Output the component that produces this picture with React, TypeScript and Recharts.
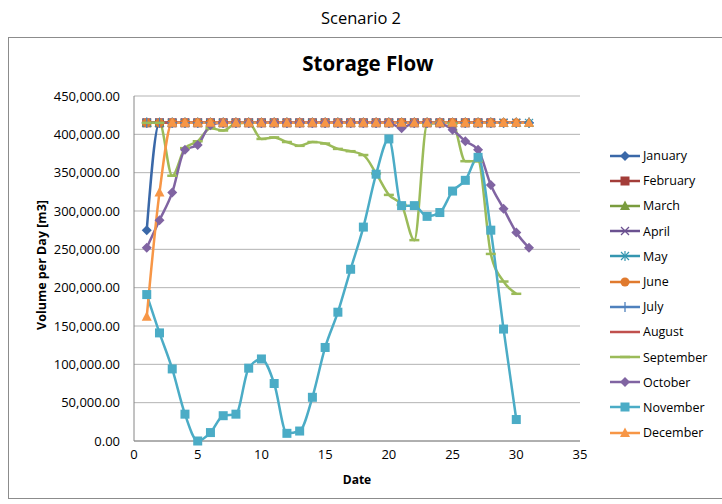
import React from 'react';
import { LineChart, Line, XAxis, YAxis, CartesianGrid } from 'recharts';

// daily storage volume per month, m3
const january = [275000, 415000, 415000, 415000, 415000, 415000, 415000, 415000, 415000, 415000, 415000, 415000, 415000, 415000, 415000, 415000, 415000, 415000, 415000, 415000, 415000, 415000, 415000, 415000, 415000, 415000, 415000, 415000, 415000, 415000, 415000];
const february = [415000, 415000, 415000, 415000, 415000, 415000, 415000, 415000, 415000, 415000, 415000, 415000, 415000, 415000, 415000, 415000, 415000, 415000, 415000, 415000, 415000, 415000, 415000, 415000, 415000, 415000, 415000, 415000];
const march = [415000, 415000, 415000, 415000, 415000, 415000, 415000, 415000, 415000, 415000, 415000, 415000, 415000, 415000, 415000, 415000, 415000, 415000, 415000, 415000, 415000, 415000, 415000, 415000, 415000, 415000, 415000, 415000, 415000, 415000, 415000];
const april = [415000, 415000, 415000, 415000, 415000, 415000, 415000, 415000, 415000, 415000, 415000, 415000, 415000, 415000, 415000, 415000, 415000, 415000, 415000, 415000, 415000, 415000, 415000, 415000, 415000, 415000, 415000, 415000, 415000, 415000];
const may = [415000, 415000, 415000, 415000, 415000, 415000, 415000, 415000, 415000, 415000, 415000, 415000, 415000, 415000, 415000, 415000, 415000, 415000, 415000, 415000, 415000, 415000, 415000, 415000, 415000, 415000, 415000, 415000, 415000, 415000, 415000];
const june = [415000, 415000, 415000, 415000, 415000, 415000, 415000, 415000, 415000, 415000, 415000, 415000, 415000, 415000, 415000, 415000, 415000, 415000, 415000, 415000, 415000, 415000, 415000, 415000, 415000, 415000, 415000, 415000, 415000, 415000];
const july = [415000, 415000, 415000, 415000, 415000, 415000, 415000, 415000, 415000, 415000, 415000, 415000, 415000, 415000, 415000, 415000, 415000, 415000, 415000, 415000, 415000, 415000, 415000, 415000, 415000, 415000, 415000, 415000, 415000, 415000, 415000];
const august = [415000, 415000, 415000, 415000, 415000, 415000, 415000, 415000, 415000, 415000, 415000, 415000, 415000, 415000, 415000, 415000, 415000, 415000, 415000, 415000, 415000, 415000, 415000, 415000, 415000, 415000, 415000, 415000, 415000, 415000, 415000];
const september = [415000, 415000, 346000, 382000, 391000, 408000, 405000, 414000, 415000, 394000, 396000, 390000, 385000, 390000, 388000, 381000, 378000, 373000, 349000, 321000, 308000, 262000, 413000, 415000, 414000, 365000, 365000, 244000, 208000, 192000];
const october = [252000, 288000, 324000, 380000, 386000, 412000, 415000, 415000, 415000, 415000, 415000, 415000, 415000, 415000, 415000, 415000, 415000, 415000, 415000, 415000, 408000, 415000, 415000, 414000, 406000, 391000, 380000, 334000, 303000, 272000, 252000];
const november = [191000, 141000, 94000, 35000, 0, 11000, 33000, 35000, 95000, 107000, 75000, 10000, 13000, 57000, 122000, 168000, 224000, 279000, 348000, 394000, 307000, 307000, 293000, 298000, 326000, 340000, 370000, 275000, 146000, 28000];
const december = [162000, 324000, 415000, 415000, 415000, 415000, 415000, 415000, 415000, 415000, 415000, 415000, 415000, 415000, 415000, 415000, 415000, 415000, 415000, 415000, 415000, 415000, 415000, 415000, 415000, 415000, 415000, 415000, 415000, 415000, 415000];

const xTicks = [0, 5, 10, 15, 20, 25, 30, 35];
const yTicks = [0, 50000, 100000, 150000, 200000, 250000, 300000, 350000, 400000, 450000];

type Shape = 'diamond' | 'square' | 'triangle' | 'x' | 'asterisk' | 'circle' | 'plus' | 'none' | 'dash';

const series: { key: string; name: string; values: number[]; color: string; shape: Shape }[] = [
  { key: 'jan', name: 'January', values: january, color: '#3A68A8', shape: 'diamond' },
  { key: 'feb', name: 'February', values: february, color: '#A33D39', shape: 'square' },
  { key: 'mar', name: 'March', values: march, color: '#7A9C3E', shape: 'triangle' },
  { key: 'apr', name: 'April', values: april, color: '#6B5190', shape: 'x' },
  { key: 'may', name: 'May', values: may, color: '#3596B0', shape: 'asterisk' },
  { key: 'jun', name: 'June', values: june, color: '#E07A2E', shape: 'circle' },
  { key: 'jul', name: 'July', values: july, color: '#4F81BD', shape: 'plus' },
  { key: 'aug', name: 'August', values: august, color: '#C0504D', shape: 'none' },
  { key: 'sep', name: 'September', values: september, color: '#9BBB59', shape: 'dash' },
  { key: 'oct', name: 'October', values: october, color: '#8064A2', shape: 'diamond' },
  { key: 'nov', name: 'November', values: november, color: '#4BACC6', shape: 'square' },
  { key: 'dec', name: 'December', values: december, color: '#F79646', shape: 'triangle' },
];

const rows = january.map((_, i) => {
  const row: Record<string, number | undefined> = { day: i + 1 };
  series.forEach(s => {
    row[s.key] = s.values[i];
  });
  return row;
});

const font = '"Open Sans", "Noto Sans", sans-serif';

function Marker({ shape, cx, cy, color }: { shape: Shape; cx: number; cy: number; color: string }) {
  switch (shape) {
    case 'diamond':
      return <polygon points={`${cx},${cy - 5} ${cx + 5},${cy} ${cx},${cy + 5} ${cx - 5},${cy}`} fill={color} />;
    case 'square':
      return <rect x={cx - 4.5} y={cy - 4.5} width={9} height={9} fill={color} />;
    case 'triangle':
      return <polygon points={`${cx},${cy - 5.5} ${cx + 5},${cy + 4} ${cx - 5},${cy + 4}`} fill={color} />;
    case 'x':
      return (
        <g stroke={color} strokeWidth={1.3}>
          <line x1={cx - 4} y1={cy - 4} x2={cx + 4} y2={cy + 4} />
          <line x1={cx - 4} y1={cy + 4} x2={cx + 4} y2={cy - 4} />
        </g>
      );
    case 'asterisk':
      return (
        <g stroke={color} strokeWidth={1.2}>
          <line x1={cx - 4} y1={cy - 4} x2={cx + 4} y2={cy + 4} />
          <line x1={cx - 4} y1={cy + 4} x2={cx + 4} y2={cy - 4} />
          <line x1={cx} y1={cy - 5} x2={cx} y2={cy + 5} />
        </g>
      );
    case 'circle':
      return <circle cx={cx} cy={cy} r={4.5} fill={color} />;
    case 'plus':
      return (
        <g stroke={color} strokeWidth={1.3}>
          <line x1={cx - 5} y1={cy} x2={cx + 5} y2={cy} />
          <line x1={cx} y1={cy - 5} x2={cx} y2={cy + 5} />
        </g>
      );
    case 'dash':
      return <line x1={cx - 5} y1={cy} x2={cx + 5} y2={cy} stroke={color} strokeWidth={2.5} />;
    default:
      return null;
  }
}

function makeDot(shape: Shape, color: string) {
  return (props: any) => {
    const { cx, cy, index } = props;
    if (cx == null || cy == null || shape === 'none') return <g key={`d-${index}`} />;
    return (
      <g key={`d-${index}`}>
        <Marker shape={shape} cx={cx} cy={cy} color={color} />
      </g>
    );
  };
}

const fmt = (v: number) => v.toLocaleString('en-US', { minimumFractionDigits: 2, maximumFractionDigits: 2 });

export default function App() {
  return (
    <div style={{ position: 'absolute', left: 0, top: 0, width: 722, height: 504, background: '#fff', fontFamily: font, overflow: 'hidden' }}>
      <div style={{ position: 'absolute', left: 0, top: 6, width: 722, textAlign: 'center', fontSize: 16.5, color: '#000' }}>
        Scenario 2
      </div>
      <div style={{ position: 'absolute', left: 8, top: 37, width: 730, height: 462, border: '1px solid #8C8C8C', boxSizing: 'border-box' }} />
      <div style={{ position: 'absolute', left: 0, top: 49, width: 736, textAlign: 'center', fontSize: 20.5, fontWeight: 700, color: '#000' }}>
        Storage Flow
      </div>
      <div style={{ position: 'absolute', left: 0, top: 0 }}>
        <LineChart width={722} height={504} data={rows} margin={{ top: 96, right: 142, bottom: 33, left: 34 }}>
          <CartesianGrid vertical={false} stroke="#B3B3B3" strokeWidth={1} />
          <XAxis
            dataKey="day"
            type="number"
            domain={[0, 35]}
            ticks={xTicks}
            height={30}
            tickLine={false}
            tickMargin={3}
            axisLine={{ stroke: '#868686' }}
            tick={{ fontSize: 13, fill: '#000', fontFamily: font }}
            allowDataOverflow
          />
          <YAxis
            type="number"
            domain={[0, 450000]}
            ticks={yTicks}
            width={100}
            tickLine={false}
            tickMargin={8}
            tickFormatter={fmt}
            axisLine={{ stroke: '#868686' }}
            tick={{ fontSize: 13, fill: '#000', fontFamily: font }}
          />
          {series.map(s => (
            <Line
              key={s.key}
              dataKey={s.key}
              name={s.name}
              type="monotone"
              stroke={s.color}
              strokeWidth={2.5}
              dot={makeDot(s.shape, s.color)}
              activeDot={false}
              isAnimationActive={false}
            />
          ))}
        </LineChart>
      </div>
      <div style={{ position: 'absolute', left: 357, top: 471, transform: 'translateX(-50%)', fontSize: 12, fontWeight: 700 }}>Date</div>
      <div
        style={{
          position: 'absolute',
          left: 41,
          top: 265,
          transform: 'translate(-50%, -50%) rotate(-90deg)',
          fontSize: 12.5,
          fontWeight: 700,
          whiteSpace: 'nowrap',
        }}
      >
        Volume per Day [m3]
      </div>
      <div style={{ position: 'absolute', left: 609, top: 143 }}>
        {series.map(s => (
          <div key={s.key} style={{ display: 'flex', alignItems: 'center', height: 25.2, fontSize: 12.5, color: '#000' }}>
            <svg width={32} height={12} style={{ marginRight: 2 }}>
              <line x1={1} y1={6} x2={31} y2={6} stroke={s.color} strokeWidth={2.5} />
              <Marker shape={s.shape} cx={16} cy={6} color={s.color} />
            </svg>
            <span>{s.name}</span>
          </div>
        ))}
      </div>
    </div>
  );
}
